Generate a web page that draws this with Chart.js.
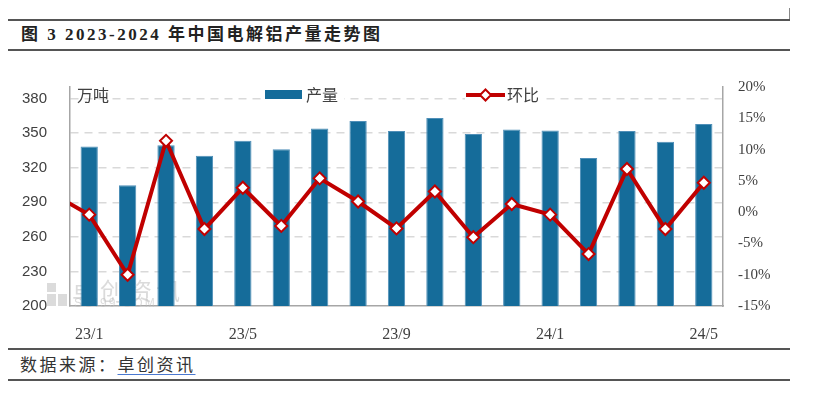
<!DOCTYPE html>
<html>
<head>
<meta charset="utf-8">
<script src="https://cdn.jsdelivr.net/npm/chart.js@4.4.1/dist/chart.umd.min.js"></script>
<style>
body { margin: 0; background: #fff; }
#page { position: relative; width: 826px; height: 395px; overflow: hidden; font-family: "Liberation Serif", "Noto Sans CJK SC", serif; }
.rule { position: absolute; left: 8px; width: 782px; height: 0; border-top: 2px solid #555; }
.tick { position: absolute; left: 789px; width: 0; height: 12px; border-left: 1px solid #888; }
#title { position: absolute; left: 21px; top: 25px; font-size: 17px; font-weight: bold; letter-spacing: 2.5px; color: #222; line-height: 20px; white-space: nowrap; }
#source { position: absolute; left: 20px; top: 355px; font-size: 17px; letter-spacing: 2.5px; color: #333; line-height: 22px; white-space: nowrap; }
#source span { text-decoration: underline; text-decoration-color: #4a78d0; text-underline-offset: 3px; }
#wrap { position: absolute; left: 0; top: 55px; width: 790px; height: 290px; }
</style>
</head>
<body>
<div id="page">
  <div class="tick" style="top:8px"></div>
  <div class="rule" style="top:19px"></div>
  <div id="title">图 3 2023-2024 年中国电解铝产量走势图</div>
  <div class="rule" style="top:49px"></div>
  <div id="wrap"><canvas id="myChart"></canvas></div>
  <div class="rule" style="top:348px"></div>
  <div id="source">数据来源：<span>卓创资讯</span></div>
  <div class="rule" style="top:379px"></div>
</div>
<script>
const months = ['23/1', '23/2', '23/3', '23/4', '23/5', '23/6', '23/7', '23/8', '23/9',
    '23/10', '23/11', '23/12', '24/1', '24/2', '24/3', '24/4', '24/5'];
// 产量，万吨
const output = [338.3, 304.7, 339.4, 330.3, 343.4, 336.0, 354.0, 360.6, 351.8,
    363.2, 349.2, 353.2, 352.3, 328.5, 351.8, 342.6, 358.0];
// 环比，%（22/12 那一点只在左边露出一小段线）
const momPrev = 3.1;
const mom = [-0.4, -10.0, 11.4, -2.7, 3.9, -2.2, 5.4, 1.7, -2.6,
    3.3, -4.0, 1.3, -0.4, -6.7, 6.9, -2.7, 4.7];
const leftTicks = [200, 230, 260, 290, 320, 350, 380];
const rightTicks = [-15, -10, -5, 0, 5, 10, 15, 20];

const barColor = '#156c9a';
const lineColor = '#c00000';
const axisColor = '#a6a6a6';
const textColor = '#404040';

const lineData = [{ x: -1, y: momPrev }].concat(mom.map((v, i) => ({ x: i, y: v })));

const decor = {
    id: 'decor',
    beforeDatasetsDraw(chart) {
        const c = chart.ctx;
        const a = chart.chartArea;
        c.save();
        // 水印
        c.fillStyle = 'rgba(190,190,190,0.55)';
        c.fillRect(a.left - 23, a.bottom - 23, 9, 9);
        c.fillRect(a.left - 23, a.bottom - 12, 9, 12);
        c.fillRect(a.left - 12, a.bottom - 12, 9, 12);
        c.font = '24px "Noto Sans CJK SC"';
        c.textBaseline = 'middle';
        c.letterSpacing = '4px';
        c.fillText('卓创资讯', a.left + 2, a.bottom - 15);
        c.letterSpacing = '2px';
        c.font = '12px "Liberation Sans"';
        c.fillText('SCI99.COM', a.left + 4, a.bottom - 2);
        c.restore();
    },
    afterDatasetsDraw(chart) {
        const c = chart.ctx;
        const a = chart.chartArea;
        const y = a.top + 8;
        c.save();
        c.font = '16px "Noto Sans CJK SC"';
        c.textBaseline = 'middle';
        c.fillStyle = '#fff';
        c.fillRect(264, y - 6, 80, 13);
        c.fillRect(465, y - 6, 78, 13);
        c.fillStyle = textColor;
        c.fillText('万吨', a.left + 7, y);
        // 图例：产量
        c.fillStyle = barColor;
        c.fillRect(265, y - 5, 37, 9);
        c.fillStyle = textColor;
        c.fillText('产量', 306, y);
        // 图例：环比
        c.strokeStyle = lineColor;
        c.lineWidth = 4;
        c.beginPath();
        c.moveTo(466, y);
        c.lineTo(505, y);
        c.stroke();
        c.lineWidth = 2;
        c.fillStyle = '#fff';
        c.beginPath();
        c.moveTo(485.5, y - 5.5);
        c.lineTo(491, y);
        c.lineTo(485.5, y + 5.5);
        c.lineTo(480, y);
        c.closePath();
        c.fill();
        c.stroke();
        c.fillStyle = textColor;
        c.fillText('环比', 507, y);
        c.restore();
    }
};

new Chart(document.getElementById('myChart'), {
    data: {
        labels: months,
        datasets: [{
            type: 'line',
            label: '环比',
            data: lineData,
            xAxisID: 'xl',
            yAxisID: 'y2',
            borderColor: lineColor,
            borderWidth: 4,
            tension: 0,
            pointStyle: 'rectRot',
            pointRadius: 6,
            pointBorderWidth: 2,
            pointBorderColor: lineColor,
            pointBackgroundColor: '#fff',
            order: 0,
        }, {
            type: 'bar',
            label: '产量',
            data: output,
            xAxisID: 'x',
            yAxisID: 'y',
            backgroundColor: barColor,
            borderColor: '#4f8fb8',
            borderWidth: 1,
            grouped: false,
            barPercentage: 0.45,
            categoryPercentage: 1,
            order: 1,
        }],
    },
    options: {
        responsive: true,
        maintainAspectRatio: false,
        animation: false,
        layout: { padding: { top: 31, left: 0, right: 0, bottom: 0 } },
        scales: {
            x: {
                type: 'category',
                offset: true,
                grid: { display: false },
                border: { display: true, color: axisColor, width: 1.5 },
                ticks: {
                    autoSkip: false,
                    maxRotation: 0,
                    padding: 11,
                    color: textColor,
                    font: { size: 16, family: '"Liberation Serif"' },
                    callback: (v, i) => (i % 4 === 0 ? months[i] : ''),
                },
                afterFit: (s) => { s.height = 39; },
            },
            xl: {
                type: 'linear',
                display: false,
                min: -0.5,
                max: months.length - 0.5,
            },
            y: {
                position: 'left',
                min: 200,
                max: 390,
                afterBuildTicks: (s) => { s.ticks = leftTicks.map(v => ({ value: v })); },
                grid: {
                    color: (ctx) => (ctx.tick && ctx.tick.value === 200 ? 'rgba(0,0,0,0)' : '#d9d9d9'),
                    lineWidth: 1.5,
                    drawTicks: false,
                },
                border: { display: true, color: axisColor, width: 1.5, dash: [8, 6] },
                ticks: {
                    padding: 23,
                    color: textColor,
                    font: { size: 15, family: '"Liberation Sans"' },
                },
                afterFit: (s) => { s.width = 70; },
            },
            y2: {
                position: 'right',
                min: -15,
                max: 20,
                afterBuildTicks: (s) => { s.ticks = rightTicks.map(v => ({ value: v })); },
                grid: { display: false, drawTicks: false },
                border: { display: true, color: axisColor, width: 1.5 },
                ticks: {
                    padding: 15,
                    color: textColor,
                    font: { size: 15, family: '"Liberation Serif"' },
                    callback: (v) => v + '%',
                },
                afterFit: (s) => { s.width = 67; },
            },
        },
        plugins: {
            legend: { display: false },
            tooltip: { enabled: false },
        },
    },
    plugins: [decor],
});
</script>
</body>
</html>
